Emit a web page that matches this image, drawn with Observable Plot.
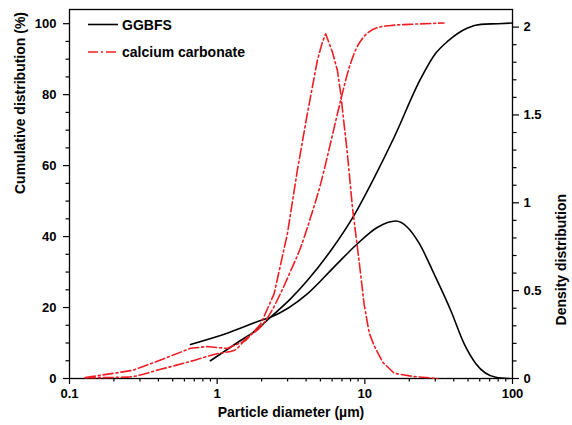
<!DOCTYPE html>
<html><head><meta charset="utf-8">
<script src="https://cdn.jsdelivr.net/npm/d3@7"></script>
<script src="https://cdn.jsdelivr.net/npm/@observablehq/plot@0.6"></script>
<style>
body{margin:0;background:#fff;}
#wrap{position:relative;width:572px;height:425px;font-family:"Liberation Sans",Arial,sans-serif;}
#legend{position:absolute;left:0;top:0;pointer-events:none;}
</style></head><body>
<div id="wrap"><div id="chart"></div><svg id="legend" width="572" height="425"></svg></div>
<script>
// ---- data ----
const ggbfsCumX = [0.90, 1.44, 1.82, 2.30, 3.15, 4.08, 5.87, 8.45, 11.54, 15.8, 23.9, 30.0, 36.3, 49.6, 61.0, 80, 100];
const ggbfsCumY = [5.0, 10.7, 13.5, 17.3, 22.5, 27.6, 36.0, 46.0, 56.5, 68.0, 84.5, 91.5, 95.0, 98.8, 99.8, 100, 100.2];

const ggbfsDenX = [0.66, 1.17, 1.97, 2.30, 4.08, 6.18, 8.91, 12.2, 16.2, 19.4, 23.3, 29.4, 38.2, 47.0, 56.5, 77, 95];
const ggbfsDenY = [0.194, 0.258, 0.330, 0.349, 0.482, 0.634, 0.767, 0.861, 0.896, 0.861, 0.770, 0.596, 0.387, 0.198, 0.084, 0.007, 0.0];

const ccCumX = [0.128, 0.246, 0.414, 0.696, 1.0, 1.30, 1.60, 1.97, 2.30, 2.68, 3.16, 3.68, 4.30, 5.03, 5.87, 6.87, 7.82, 8.75, 9.63, 12.2, 15.0, 19.9, 34.4];
const ccCumY = [0.2, 0.4, 2.6, 5.1, 7.0, 7.9, 11.6, 14.5, 18.5, 23.9, 30.5, 37.0, 45.5, 55.0, 66.5, 78.5, 87.5, 93.0, 95.8, 98.9, 99.5, 99.8, 100.2];

const ccDenX = [0.128, 0.266, 0.393, 0.661, 0.857, 1.17, 1.56, 1.97, 2.43, 2.99, 3.49, 4.08, 4.77, 5.16, 5.43, 6.03, 6.52, 6.87, 7.23, 7.62, 8.24, 9.14, 9.90, 10.7, 11.54, 13.2, 15.8, 21.5, 31.0];
const ccDenY = [0.005, 0.046, 0.098, 0.172, 0.182, 0.171, 0.216, 0.31, 0.482, 0.824, 1.184, 1.507, 1.81, 1.915, 1.962, 1.858, 1.753, 1.62, 1.45, 1.28, 0.975, 0.67, 0.42, 0.26, 0.188, 0.093, 0.030, 0.011, 0.0];

const seriesNames = ["GGBFS", "calcium carbonate"];
const xMajor = [0.1, 1, 10, 100];
const xTickLabels = ["0.1", "1", "10", "100"];
const xMinor = [0.2,0.3,0.4,0.5,0.6,0.7,0.8,0.9, 2,3,4,5,6,7,8,9, 20,30,40,50,60,70,80,90];
const yMajor = [0, 20, 40, 60, 80, 100];
const yMinor = [5,10,15,25,30,35,45,50,55,65,70,75,85,90,95];
const rMajor = [0, 0.5, 1, 1.5, 2];
const rTickLabels = ["0", "0.5", "1", "1.5", "2"];
const rMinor = [0.1,0.2,0.3,0.4,0.6,0.7,0.8,0.9,1.1,1.2,1.3,1.4,1.6,1.7,1.8,1.9];
const xTitle = "Particle diameter (\u00b5m)";
const yTitle = "Cumulative distribution (%)";
const rTitle = "Density distribution";

// ---- build ----
const K = 49.52; // right-axis unit expressed in left-axis units
const zip = (xs, ys) => xs.map((d, i) => ({d, v: ys[i]}));
const ggbfsCum = zip(ggbfsCumX, ggbfsCumY);
const ggbfsDen = zip(ggbfsDenX, ggbfsDenY);
const ccCum = zip(ccCumX, ccCumY);
const ccDen = zip(ccDenX, ccDenY);

const RED = "#f01e23";
const DASH = "10,3,2,3";
const font = "'Liberation Sans', Arial, sans-serif";

const chart = Plot.plot({
  width: 572, height: 425,
  marginLeft: 69, marginRight: 60, marginTop: 9, marginBottom: 47,
  style: {fontFamily: font, fontSize: "13px", fontWeight: "bold", color: "#000", background: "#fff"},
  x: {type: "log", domain: [0.1, 100]},
  y: {domain: [0, 104]},
  marks: [
    Plot.axisX({ticks: xMajor, tickSize: 6, tickPadding: 4, tickFormat: d => xTickLabels[xMajor.indexOf(d)], label: null, strokeWidth: 1.2}),
    Plot.axisX({ticks: xMinor, tickSize: 3.5, tickFormat: () => "", label: null, strokeWidth: 1.2}),
    Plot.axisY({ticks: yMajor, tickSize: 6, tickPadding: 7, tickFormat: d => String(d), label: null, strokeWidth: 1.2}),
    Plot.axisY({ticks: yMinor, tickSize: 3.5, tickFormat: () => "", label: null, strokeWidth: 1.2}),
    Plot.axisY({anchor: "right", ticks: rMajor.map(v => v * K), tickSize: 6, tickPadding: 5,
      tickFormat: d => rTickLabels[rMajor.findIndex(v => Math.abs(v * K - d) < 1e-6)], label: null, strokeWidth: 1.2}),
    Plot.axisY({anchor: "right", ticks: rMinor.map(v => v * K), tickSize: 3.5, tickFormat: () => "", label: null, strokeWidth: 1.2}),
    Plot.frame({stroke: "#000", strokeWidth: 1.3}),
    Plot.line(ggbfsCum, {x: "d", y: "v", stroke: "#000", strokeWidth: 1.6, curve: "monotone-x"}),
    Plot.line(ggbfsDen, {x: "d", y: r => r.v * K, stroke: "#000", strokeWidth: 1.6, curve: "monotone-x"}),
    Plot.line(ccCum, {x: "d", y: "v", stroke: RED, strokeWidth: 1.6, strokeDasharray: DASH, curve: "monotone-x"}),
    Plot.line(ccDen, {x: "d", y: r => r.v * K, stroke: RED, strokeWidth: 1.6, strokeDasharray: DASH}),
    Plot.text([yTitle], {frameAnchor: "left", dx: -49, rotate: -90, text: d => d, fontSize: 14, fontWeight: "bold", fill: "#000"}),
    Plot.text([rTitle], {frameAnchor: "right", dx: 49, rotate: -90, text: d => d, fontSize: 14, fontWeight: "bold", fill: "#000"}),
    Plot.text([xTitle], {frameAnchor: "bottom", dy: 38, text: d => d, fontSize: 14, fontWeight: "bold", fill: "#000"})
  ]
});
document.getElementById("chart").appendChild(chart);

// legend overlay
const lg = d3.select("#legend");
const items = [
  {name: seriesNames[0], stroke: "#000", dash: null, y: 24.5},
  {name: seriesNames[1], stroke: RED, dash: DASH, y: 52}
];
items.forEach(it => {
  lg.append("line").attr("x1", 88).attr("x2", 118).attr("y1", it.y).attr("y2", it.y)
    .attr("stroke", it.stroke).attr("stroke-width", 1.6).attr("stroke-dasharray", it.dash);
  lg.append("text").attr("x", 122).attr("y", it.y).attr("dy", "0.36em")
    .attr("font-family", font).attr("font-weight", "bold").attr("font-size", 14).attr("fill", "#000")
    .text(it.name);
});
</script>
</body></html>
